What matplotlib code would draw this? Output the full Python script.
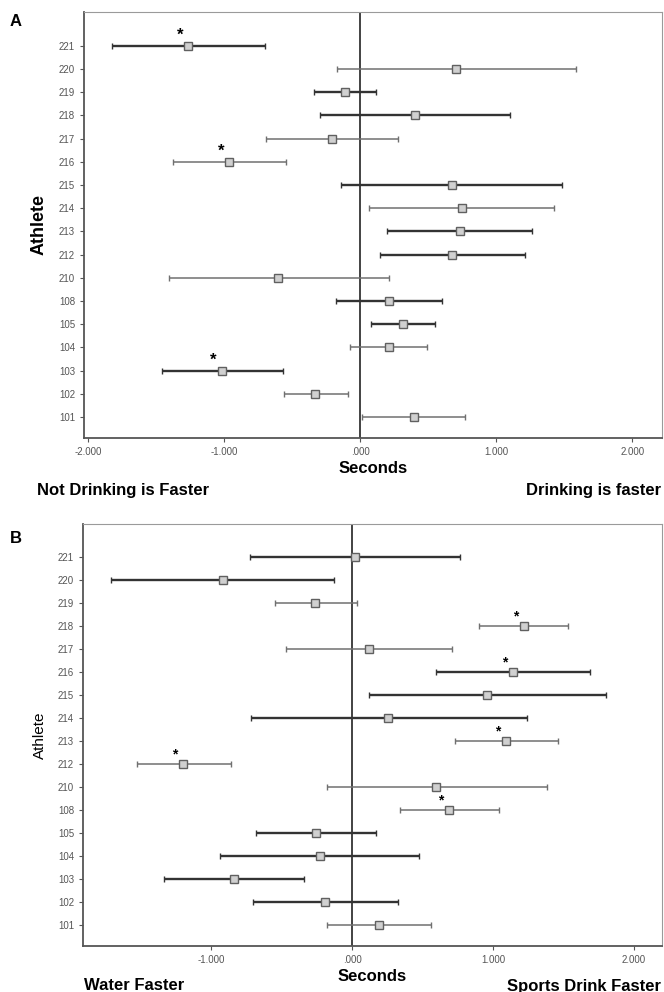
import matplotlib
matplotlib.use("Agg")
import matplotlib.pyplot as plt
from matplotlib.ticker import FuncFormatter

plt.rcParams['font.family'] = ['Liberation Sans', 'DejaVu Sans']

# athletes, bottom to top
athletes = ["101", "102", "103", "104", "105", "108", "210", "212",
            "213", "214", "215", "216", "217", "218", "219", "220", "221"]

# panel A: drinking vs not drinking (seconds)
a_mean = [0.394, -0.329, -1.016, 0.211, 0.314, 0.211, -0.606, 0.677,
          0.730, 0.745, 0.671, -0.963, -0.205, 0.401, -0.109, 0.702, -1.264]
a_low = [0.016, -0.562, -1.460, -0.078, 0.081, -0.180, -1.407, 0.143,
         0.199, 0.062, -0.140, -1.376, -0.696, -0.295, -0.342, -0.174, -1.823]
a_high = [0.773, -0.093, -0.565, 0.494, 0.550, 0.599, 0.208, 1.211,
          1.261, 1.422, 1.481, -0.543, 0.280, 1.099, 0.118, 1.587, -0.702]
a_sig = ["103", "216", "221"]
a_dark = ["103", "105", "108", "212", "213", "215", "218", "219", "221"]

# panel B: sports drink vs water (seconds)
b_mean = [0.192, -0.189, -0.838, -0.231, -0.258, 0.688, 0.598, -1.198,
          1.096, 0.258, 0.961, 1.144, 0.120, 1.219, -0.264, -0.919, 0.024]
b_low = [-0.177, -0.703, -1.333, -0.940, -0.682, 0.342, -0.180, -1.529,
         0.730, -0.721, 0.123, 0.598, -0.471, 0.898, -0.550, -1.709, -0.727]
b_high = [0.559, 0.324, -0.339, 0.474, 0.168, 1.042, 1.381, -0.862,
          1.465, 1.240, 1.802, 1.688, 0.712, 1.535, 0.033, -0.126, 0.769]
b_sig = ["108", "212", "213", "216", "218"]
b_dark = ["102", "103", "104", "105", "214", "215", "216", "220", "221"]


def fmt(v, pos):
    s = f"{v:.3f}"
    return s.replace("0.000", ".000") if abs(v) < 1e-9 else s


def panel(ax, mean, low, high, sig, dark, xlim, xticks, star_size, ylab_bold):
    for i, name in enumerate(athletes):
        heavy = name in dark
        col = "#333333" if heavy else "#707070"
        ax.errorbar(mean[i], i, xerr=[[mean[i] - low[i]], [high[i] - mean[i]]],
                    fmt="s", color=col, ecolor=col, lw=1.7 if heavy else 1.1,
                    capsize=2.5, capthick=1.2, ms=5.5, mfc="#d0d0d0",
                    mec="#606060", mew=1.0, zorder=3)
        if name in sig:
            ax.annotate("*", (mean[i], i), xytext=(-6, 2), textcoords="offset points",
                        ha="center", va="bottom", fontsize=star_size,
                        fontweight="bold", color="black")
    ax.axvline(0, color="#222222", lw=1.2, zorder=2)
    ax.set_xlim(*xlim)
    ax.set_ylim(-0.9, len(athletes) - 1 + 1.45)
    ax.set_yticks(range(len(athletes)))
    ax.set_yticklabels(athletes)
    ax.set_xticks(xticks)
    ax.xaxis.set_major_formatter(FuncFormatter(fmt))
    ax.tick_params(axis="both", labelsize=7, colors="#555555", length=3, width=0.8)
    for side in ("top", "right"):
        ax.spines[side].set_color("#9a9a9a")
    for side in ("left", "bottom"):
        ax.spines[side].set_color("#555555")
        ax.spines[side].set_linewidth(1.3)
    ax.set_ylabel("Athlete", fontsize=13 if ylab_bold else 11,
                  fontweight="bold" if ylab_bold else "normal", labelpad=8)
    ax.set_xlabel("Seconds", fontsize=12, fontweight="bold", labelpad=3)


fig = plt.figure(figsize=(6.64, 9.92), dpi=100)
ax_a = fig.add_axes([0.1265, 0.5585, 0.871, 0.4294])
ax_b = fig.add_axes([0.125, 0.0464, 0.872, 0.4254])

panel(ax_a, a_mean, a_low, a_high, a_sig, a_dark, (-2.03, 2.22),
      [-2, -1, 0, 1, 2], 12, True)
panel(ax_b, b_mean, b_low, b_high, b_sig, b_dark, (-1.91, 2.2),
      [-1, 0, 1, 2], 10, False)

fig.text(0.015, 0.978, "A", fontsize=12, fontweight="bold", va="center")
fig.text(0.015, 0.457, "B", fontsize=12, fontweight="bold", va="center")
fig.text(0.056, 0.506, "Not Drinking is Faster", fontsize=12, fontweight="bold", va="center")
fig.text(0.995, 0.506, "Drinking is faster", fontsize=12, fontweight="bold",
         va="center", ha="right")
fig.text(0.127, 0.007, "Water Faster", fontsize=12, fontweight="bold", va="center")
fig.text(0.995, 0.006, "Sports Drink Faster", fontsize=12, fontweight="bold",
         va="center", ha="right")

fig.savefig("out.png", dpi=100)
